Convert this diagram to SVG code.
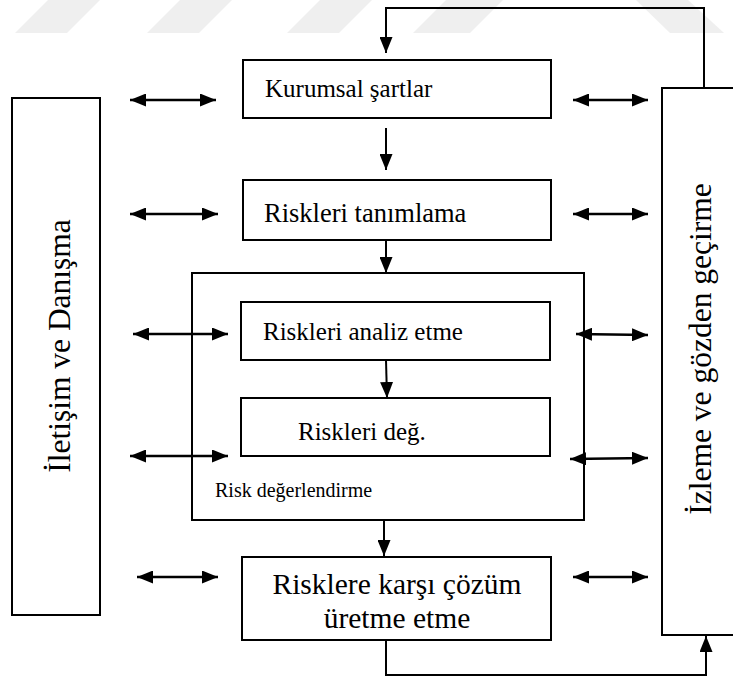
<svg xmlns="http://www.w3.org/2000/svg" width="733" height="679" viewBox="0 0 733 679">
  <style>
    .box { fill: #ffffff; stroke: #000000; stroke-width: 2; }
    .lbl { font-family: 'Liberation Serif', 'Times New Roman', serif; font-size: 25px; fill: #000000; }
    .small { font-size: 20px; }
    .mid { font-size: 26.5px; }
    .big { font-size: 29.5px; }
    .side { font-size: 31.5px; }
    .conn { fill: none; stroke: #000000; stroke-width: 2; }
    .dbl { fill: none; stroke: #000000; stroke-width: 2.5; marker-start: url(#ah); marker-end: url(#ah); }
    .one { marker-end: url(#ah); }
    .mark { fill: #efefef; }
  </style>
  <defs>
    <marker id="ah" viewBox="0 0 16 13" refX="16" refY="6.5" markerWidth="16" markerHeight="13" markerUnits="userSpaceOnUse" orient="auto-start-reverse">
      <path d="M0,0 L16,6.5 L0,13 z" fill="#000000"/>
    </marker>
  </defs>

  <rect width="733" height="679" fill="#ffffff"/>

  <!-- light slanted stripe band along the top edge -->
  <g id="stripes">
    <polygon class="mark" points="15,33 67,33 100,0 48,0"/>
    <polygon class="mark" points="147,33 199,33 232,0 180,0"/>
    <polygon class="mark" points="287,33 339,33 372,0 320,0"/>
    <polygon class="mark" points="413,33 470,33 503,0 446,0"/>
    <polygon class="mark" points="636,0 688,0 724,33 670,33"/>
  </g>

  <!-- side boxes -->
  <g id="iletisim">
    <rect class="box" x="12" y="98" width="88" height="517"/>
    <text class="lbl side" transform="translate(70,346) rotate(-90)" text-anchor="middle">İletişim ve Danışma</text>
  </g>
  <g id="izleme">
    <rect class="box" x="662" y="88" width="80" height="547"/>
    <text class="lbl side" transform="translate(711,349) rotate(-90)" text-anchor="middle">İzleme ve gözden geçirme</text>
  </g>

  <!-- central chain -->
  <g id="kurumsal">
    <rect class="box" x="243" y="60" width="308" height="58"/>
    <text class="lbl" x="265" y="97">Kurumsal şartlar</text>
  </g>
  <g id="tanimlama">
    <rect class="box" x="243" y="180" width="308" height="60"/>
    <text class="lbl mid" x="264" y="222">Riskleri tanımlama</text>
  </g>
  <g id="degerlendirme">
    <rect class="box" x="192" y="273" width="392" height="247"/>
    <text class="lbl small" x="215" y="497">Risk değerlendirme</text>
  </g>
  <g id="analiz">
    <rect class="box" x="241" y="302" width="309" height="58"/>
    <text class="lbl" x="263" y="340">Riskleri analiz etme</text>
  </g>
  <g id="deg">
    <rect class="box" x="241" y="398" width="309" height="58"/>
    <text class="lbl" x="298" y="440">Riskleri değ.</text>
  </g>
  <g id="cozum">
    <rect class="box" x="242" y="557" width="309" height="83"/>
    <text class="lbl big" x="397" y="594" text-anchor="middle">Risklere karşı çözüm</text>
    <text class="lbl big" x="397" y="628" text-anchor="middle">üretme etme</text>
  </g>

  <!-- connectors -->
  <g id="connectors">
    <polyline class="conn one" points="704,88 704,8 386,8 386,53"/>
    <line class="conn one" x1="386" y1="128" x2="386" y2="170"/>
    <line class="conn one" x1="386" y1="240" x2="386" y2="273"/>
    <line class="conn one" x1="386" y1="360" x2="387" y2="398"/>
    <line class="conn one" x1="384" y1="520" x2="384" y2="556"/>
    <polyline class="conn one" points="386,640 386,675 706,675 706,636"/>

    <line class="dbl" x1="130" y1="100" x2="216" y2="100"/>
    <line class="dbl" x1="130" y1="214" x2="218" y2="214"/>
    <line class="dbl" x1="133" y1="334" x2="228" y2="334"/>
    <line class="dbl" x1="130" y1="456" x2="228" y2="456"/>
    <line class="dbl" x1="137" y1="577" x2="218" y2="577"/>

    <line class="dbl" x1="573" y1="100" x2="648" y2="100"/>
    <line class="dbl" x1="573" y1="214" x2="648" y2="214"/>
    <line class="dbl" x1="576" y1="334" x2="648" y2="335"/>
    <line class="dbl" x1="570" y1="459" x2="648" y2="458"/>
    <line class="dbl" x1="573" y1="577" x2="648" y2="577"/>
  </g>
</svg>
